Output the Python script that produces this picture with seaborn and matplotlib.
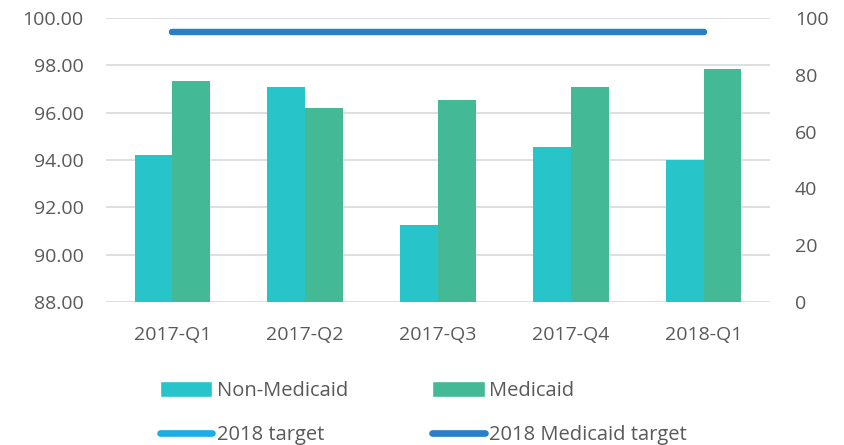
import matplotlib
matplotlib.use("Agg")
import matplotlib.pyplot as plt
import seaborn as sns
import pandas as pd
from matplotlib.patches import Patch
from matplotlib.lines import Line2D

quarters = ["2017-Q1", "2017-Q2", "2017-Q3", "2017-Q4", "2018-Q1"]
non_medicaid = [94.2, 97.1, 91.25, 94.55, 94.0]
medicaid = [97.35, 96.2, 96.55, 97.1, 97.85]
target_2018 = [95, 95, 95, 95, 95]
medicaid_target_2018 = [95, 95, 95, 95, 95]

c_non = "#27C4C9"
c_med = "#43B996"
c_t = "#1BADE4"
c_mt = "#2A7DC8"
txt = "#595959"

sns.set_theme(style="white")
plt.rcParams["font.family"] = ["Open Sans", "DejaVu Sans"]

df = pd.DataFrame({
    "quarter": quarters * 2,
    "value": non_medicaid + medicaid,
    "series": ["Non-Medicaid"] * 5 + ["Medicaid"] * 5,
})

fig = plt.figure(figsize=(8.44, 4.45), dpi=100)
ax = fig.add_axes([106 / 844, 1 - 302 / 445, (770 - 106) / 844, 284 / 445])

sns.barplot(data=df, x="quarter", y="value", hue="series",
            palette=[c_non, c_med], width=0.57, ax=ax, legend=False,
            saturation=1, linewidth=0)
# bars start at the 88 baseline
for p in ax.patches:
    h = p.get_height()
    p.set_y(88)
    p.set_height(h - 88)

ax.set_ylim(88, 100)
ax.set_yticks([88, 90, 92, 94, 96, 98, 100])
ax.set_yticklabels([f"{v:.2f}" for v in [88, 90, 92, 94, 96, 98, 100]])
ax.set_xlim(-0.5, 4.5)
ax.grid(axis="y", color="#D9D9D9", linewidth=1.2)
ax.set_axisbelow(True)
for s in ax.spines.values():
    s.set_visible(False)
ax.set_xlabel("")
ax.set_ylabel("")
ax.tick_params(axis="both", colors=txt, labelsize=14, length=0)
ax.tick_params(axis="y", pad=16)
ax.tick_params(axis="x", pad=17)

ax2 = ax.twinx()
xs = list(range(len(quarters)))
sns.lineplot(x=xs, y=target_2018, ax=ax2, color=c_t, linewidth=4.5,
             solid_capstyle="round", legend=False)
sns.lineplot(x=xs, y=medicaid_target_2018, ax=ax2, color=c_mt, linewidth=4.5,
             solid_capstyle="round", legend=False)
ax2.set_ylim(0, 100)
ax2.set_yticks([0, 20, 40, 60, 80, 100])
ax2.tick_params(axis="y", colors=txt, labelsize=14, length=0, pad=18)
for s in ax2.spines.values():
    s.set_visible(False)
ax2.grid(False)
ax2.set_ylabel("")

handles = [
    Patch(facecolor=c_non, label="Non-Medicaid"),
    Line2D([], [], color=c_t, linewidth=4.8, solid_capstyle="round", label="2018 target"),
    Patch(facecolor=c_med, label="Medicaid"),
    Line2D([], [], color=c_mt, linewidth=4.8, solid_capstyle="round", label="2018 Medicaid target"),
]
leg = fig.legend(handles=handles, ncol=2, loc="center left",
                 bbox_to_anchor=(142 / 844, 1 - 413 / 445), frameon=False,
                 fontsize=14.5, handlelength=2.6, handleheight=0.8,
                 handletextpad=0.2, columnspacing=4.2, labelspacing=1.2)
for t in leg.get_texts():
    t.set_color(txt)

fig.savefig("out.png", dpi=100)
